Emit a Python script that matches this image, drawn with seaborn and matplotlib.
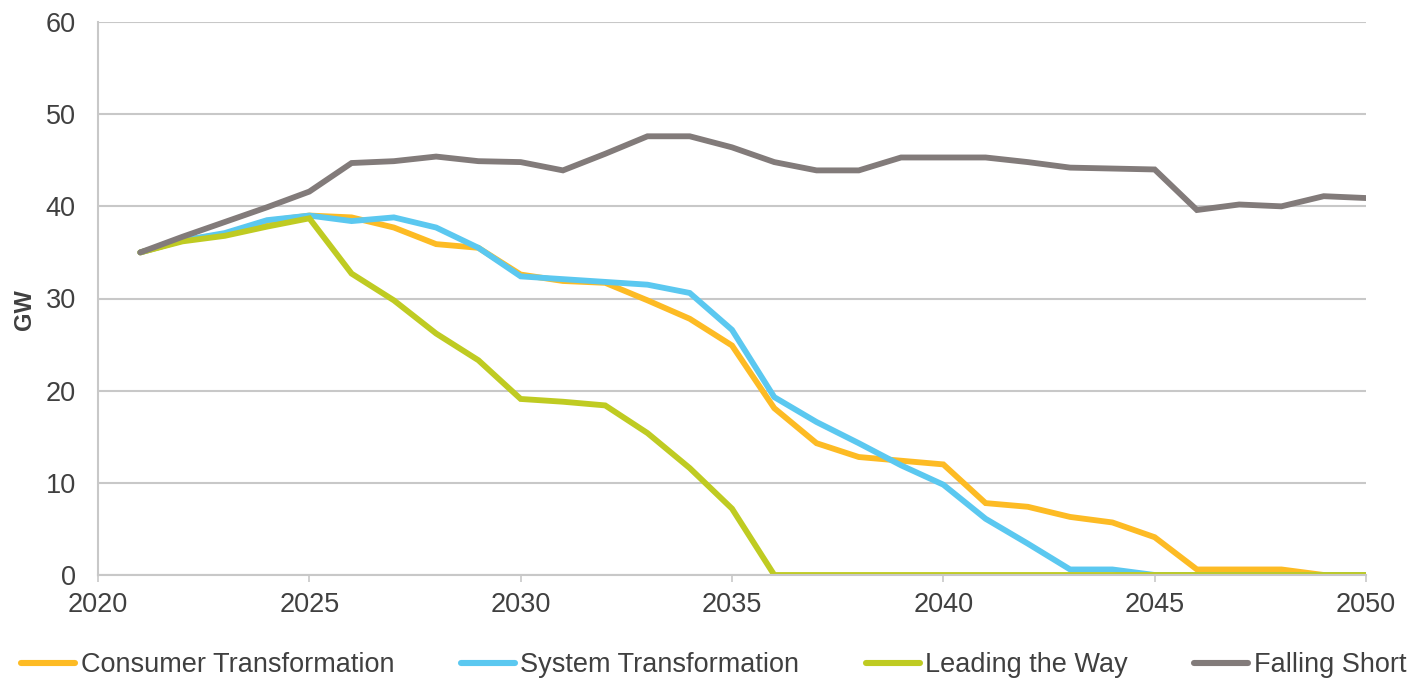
import numpy as np
import pandas as pd
import matplotlib
matplotlib.use("Agg")
import matplotlib.pyplot as plt
import seaborn as sns
from matplotlib.lines import Line2D

years = list(range(2021, 2051))

consumer_transformation = [35.0, 36.3, 37.0, 38.4, 39.0, 38.8, 37.7, 35.9, 35.5, 32.6,
                           31.9, 31.7, 29.8, 27.8, 24.9, 18.1, 14.3, 12.8, 12.4, 12.0,
                           7.8, 7.4, 6.3, 5.7, 4.1, 0.6, 0.6, 0.6, 0.0, 0.0]
system_transformation = [35.0, 36.3, 37.1, 38.5, 39.0, 38.4, 38.8, 37.7, 35.5, 32.4,
                         32.1, 31.8, 31.5, 30.6, 26.6, 19.3, 16.6, 14.3, 11.9, 9.8,
                         6.1, 3.4, 0.6, 0.6, 0.0, 0.0, 0.0, 0.0, 0.0, 0.0]
leading_the_way = [35.0, 36.2, 36.8, 37.8, 38.7, 32.7, 29.8, 26.2, 23.3, 19.1,
                   18.8, 18.4, 15.4, 11.6, 7.2, 0.0, 0.0, 0.0, 0.0, 0.0,
                   0.0, 0.0, 0.0, 0.0, 0.0, 0.0, 0.0, 0.0, 0.0, 0.0]
falling_short = [35.0, 36.7, 38.3, 39.9, 41.6, 44.7, 44.9, 45.4, 44.9, 44.8,
                 43.9, 45.7, 47.6, 47.6, 46.4, 44.8, 43.9, 43.9, 45.3, 45.3,
                 45.3, 44.8, 44.2, 44.1, 44.0, 39.6, 40.2, 40.0, 41.1, 40.9]

series_names = ["Consumer Transformation", "System Transformation",
                "Leading the Way", "Falling Short"]
series_values = [consumer_transformation, system_transformation,
                 leading_the_way, falling_short]
colors = ["#FDBB24", "#5BC8F0", "#BFCB22", "#827B7A"]

x_ticks = [2020, 2025, 2030, 2035, 2040, 2045, 2050]
y_ticks = [0, 10, 20, 30, 40, 50, 60]

df = pd.concat([pd.DataFrame({"Year": years, "GW": v, "Scenario": n})
                for n, v in zip(series_names, series_values)], ignore_index=True)

sns.set_style("white")
plt.rcParams["font.family"] = ["Liberation Sans", "DejaVu Sans"]

fig = plt.figure(figsize=(14.18, 6.84), dpi=100)
ax = fig.add_axes([98 / 1418, 1 - 575 / 684, (1366 - 98) / 1418, (575 - 22) / 684])

sns.lineplot(data=df, x="Year", y="GW", hue="Scenario", hue_order=series_names,
             palette=colors, linewidth=4.2, ax=ax, legend=False)
for ln in ax.get_lines():
    ln.set_solid_capstyle("round")
    ln.set_solid_joinstyle("miter")

ax.set_xlim(2020, 2050)
ax.set_ylim(0, 60)
ax.set_xticks(x_ticks)
ax.set_yticks(y_ticks)
ax.grid(axis="y", color="#C8C8C8", linewidth=1.5)
ax.set_axisbelow(True)
for s in ["top", "right"]:
    ax.spines[s].set_visible(False)
for s in ["left", "bottom"]:
    ax.spines[s].set_color("#C8C8C8")
    ax.spines[s].set_linewidth(1.5)
ax.tick_params(axis="x", length=5, width=1.2, color="#C8C8C8", pad=7,
               labelsize=19.5, labelcolor="#404040", direction="out", bottom=True)
ax.tick_params(axis="y", length=0, pad=16, labelsize=19.5, labelcolor="#404040")
ax.set_xlabel("")
ax.set_ylabel("GW", fontsize=17, fontweight="bold", color="#404040")
ax.yaxis.set_label_coords(-0.049, 0.48)

handles = [Line2D([0], [0], color=c, linewidth=4.4, solid_capstyle="round")
           for c in colors]
leg = fig.legend(handles, series_names, loc="center left",
                 bbox_to_anchor=(0.015, 1 - 665 / 684), ncol=4, frameon=False,
                 fontsize=19.5, handlelength=2.0, handletextpad=0.2,
                 columnspacing=2.45, borderaxespad=0, borderpad=0)
for t in leg.get_texts():
    t.set_color("#404040")

fig.savefig("out.png", dpi=100)
